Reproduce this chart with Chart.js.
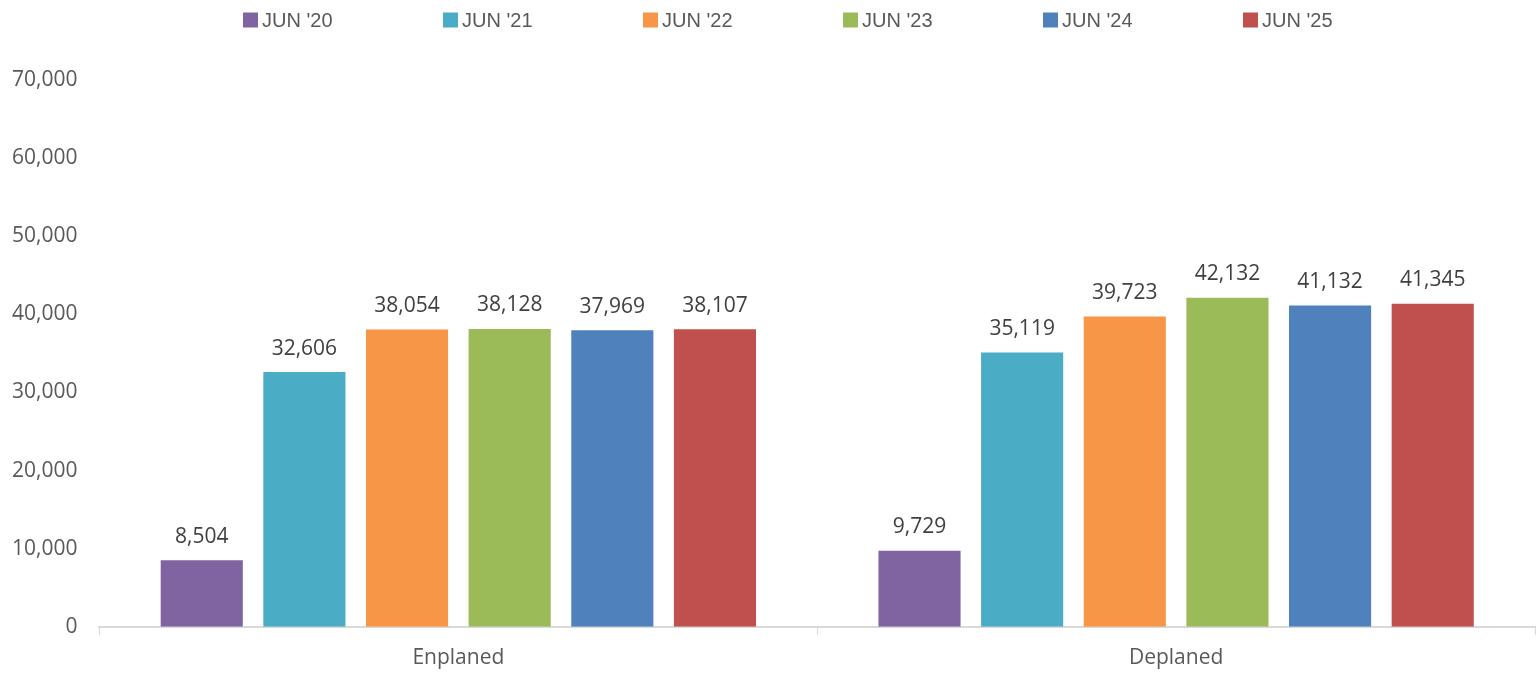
<!DOCTYPE html>
<html>
<head>
<meta charset="utf-8">
<script src="https://cdn.jsdelivr.net/npm/chart.js@4/dist/chart.umd.min.js"></script>
<style>
  html, body { margin: 0; padding: 0; background: #fff; }
  #wrap { width: 1537px; height: 675px; }
</style>
</head>
<body>
<div id="wrap"><canvas id="bar-chart"></canvas></div>
<script>
const categories = ['Enplaned', 'Deplaned'];
const seriesNames = ["JUN '20", "JUN '21", "JUN '22", "JUN '23", "JUN '24", "JUN '25"];
const jun20 = [8504, 9729];
const jun21 = [32606, 35119];
const jun22 = [38054, 39723];
const jun23 = [38128, 42132];
const jun24 = [37969, 41132];
const jun25 = [38107, 41345];
const yTicks = [0, 10000, 20000, 30000, 40000, 50000, 60000, 70000];

const colors = ['#8064A2', '#4BACC6', '#F79646', '#9BBB59', '#4F81BD', '#C0504D'];
const seriesValues = [jun20, jun21, jun22, jun23, jun24, jun25];

const fmt = v => v.toLocaleString('en-US');

// value labels above each bar
const barLabels = {
  id: 'barLabels',
  afterDatasetsDraw(chart) {
    const ctx = chart.ctx;
    ctx.save();
    ctx.font = '21px "Open Sans"';
    ctx.fillStyle = '#404040';
    ctx.textAlign = 'center';
    ctx.textBaseline = 'bottom';
    chart.data.datasets.forEach((ds, i) => {
      chart.getDatasetMeta(i).data.forEach((bar, j) => {
        ctx.fillText(fmt(ds.data[j]), bar.x, bar.y - 13);
      });
    });
    ctx.restore();
  }
};

// evenly spaced legend across the top
const topLegend = {
  id: 'topLegend',
  afterDraw(chart) {
    const ctx = chart.ctx;
    const step = 200;
    const box = 15;
    ctx.save();
    ctx.font = '20px "Liberation Sans"';
    ctx.textBaseline = 'middle';
    let x = 243;
    const y = 20;
    chart.data.datasets.forEach(ds => {
      ctx.fillStyle = ds.backgroundColor;
      ctx.fillRect(x, y - box / 2, box, box);
      ctx.fillStyle = '#595959';
      ctx.fillText(ds.label, x + box + 4, y + 1);
      x += step;
    });
    ctx.restore();
  }
};

new Chart(document.getElementById('bar-chart'), {
  type: 'bar',
  data: {
    labels: categories,
    datasets: seriesNames.map((name, i) => ({
      label: name,
      data: seriesValues[i],
      backgroundColor: colors[i],
      categoryPercentage: 0.858,
      barPercentage: 0.8,
    })),
  },
  options: {
    responsive: true,
    maintainAspectRatio: false,
    animation: false,
    layout: { padding: { top: 80, right: 2, left: -10, bottom: -7 } },
    plugins: {
      legend: { display: false },
      tooltip: { enabled: false },
    },
    scales: {
      x: {
        grid: { display: true, offset: true, drawOnChartArea: false, tickLength: 8, color: '#d9d9d9', lineWidth: 1 },
        border: { display: true, color: '#d9d9d9', width: 2 },
        ticks: { color: '#595959', font: { family: 'Open Sans', size: 21 }, padding: 11 },
      },
      y: {
        min: 0,
        max: 70000,
        afterBuildTicks: axis => { axis.ticks = yTicks.map(v => ({ value: v })); },
        grid: { display: false, drawTicks: false },
        border: { display: false },
        ticks: {
          color: '#595959',
          font: { family: 'Open Sans', size: 21 },
          padding: 22,
          callback: v => fmt(v),
        },
      },
    },
  },
  plugins: [barLabels, topLegend],
});
</script>
</body>
</html>
